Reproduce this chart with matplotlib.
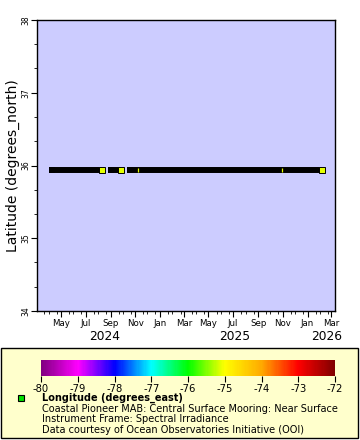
import matplotlib
matplotlib.use("Agg")
import matplotlib.pyplot as plt
import matplotlib.dates as mdates
from matplotlib.colors import LinearSegmentedColormap, Normalize
from matplotlib.cm import ScalarMappable
from matplotlib.patches import Rectangle
from matplotlib.lines import Line2D
import numpy as np
import pandas as pd

plt.rcParams["axes.unicode_minus"] = False

# ---------------------------------------------------------------------------
# Data
# ---------------------------------------------------------------------------
segment_starts = pd.to_datetime(["2024-04-08", "2024-09-02", "2024-10-19"])
segment_ends = pd.to_datetime(["2024-08-10", "2024-09-26", "2026-02-06"])
gap_points = pd.to_datetime(["2024-11-07", "2025-10-30"])
latitude = 35.94
longitude = -75.1

x_limits = pd.to_datetime(["2024-03-03", "2026-03-10"])
y_limits = [34, 38]
y_ticks = [34, 35, 36, 37, 38]
cbar_ticks = [-80, -79, -78, -77, -76, -75, -74, -73, -72]
cmap_colors = ["#800080", "#ff00ff", "#0000ff", "#00ffff", "#00ff00",
               "#ffff00", "#ffaa00", "#ff0000", "#800000"]
year_labels = ["2024", "2025", "2026"]
legend_lines = [
    "Coastal Pioneer MAB: Central Surface Mooring: Near Surface",
    "Instrument Frame: Spectral Irradiance",
    "Data courtesy of Ocean Observatories Initiative (OOI)",
]

W, H = 360, 440
cmap = LinearSegmentedColormap.from_list("erddap", cmap_colors)
norm = Normalize(vmin=-80, vmax=-72)
point_color = cmap(norm(longitude))


def px(x, y):
    """Pixel position (top-left origin) to figure fraction."""
    return x / W, 1 - y / H


fig = plt.figure(figsize=(W / 100, H / 100), dpi=100)
fig.patch.set_facecolor("white")

# ---------------------------------------------------------------------------
# Main axes
# ---------------------------------------------------------------------------
ax = fig.add_axes([37 / W, 1 - 311 / H, 298 / W, 291 / H])
ax.set_facecolor("#ccccff")
lats = [latitude] * len(segment_starts)
ax.hlines(lats, segment_starts, segment_ends,
          color="black", linewidth=4.3, capstyle="butt", zorder=2)
ax.plot(segment_starts, lats, "s", color="black", markeredgewidth=0,
        markersize=4.3, zorder=3)
ax.plot(segment_ends, lats, "s",
        markerfacecolor=point_color, markeredgecolor="black",
        markeredgewidth=0.7, markersize=4.0, zorder=4)
ax.plot(gap_points, [latitude] * len(gap_points), "|", color=point_color,
        markersize=2.6, markeredgewidth=0.9, zorder=4)

ax.set_xlim(x_limits[0], x_limits[1])
ax.set_ylim(*y_limits)
ax.set_yticks(y_ticks)
ax.set_yticklabels([str(t) for t in y_ticks], rotation=90, va="center",
                   fontsize=5.5)
ax.set_yticks(np.arange(34, 38, 1 / 3), minor=True)
ax.set_ylabel("Latitude (degrees_north)", fontsize=10, labelpad=1)

ax.xaxis.set_major_locator(mdates.MonthLocator(bymonth=[1, 3, 5, 7, 9, 11]))
ax.xaxis.set_major_formatter(mdates.DateFormatter("%b"))
ax.xaxis.set_minor_locator(mdates.DayLocator(bymonthday=[1, 21]))
ax.tick_params(axis="x", labelsize=6.2, length=4, pad=2)
ax.tick_params(axis="y", length=4, pad=1)
ax.tick_params(which="minor", length=2)
for spine in ax.spines.values():
    spine.set_linewidth(1)

for label, xpos in zip(year_labels, [105, 235, 327]):
    fig.text(*px(xpos, 337), label, ha="center", va="center", fontsize=8.8)

# ---------------------------------------------------------------------------
# Legend panel
# ---------------------------------------------------------------------------
fig.add_artist(Rectangle(px(1, 438), 357 / W, 90 / H, transform=fig.transFigure,
                         facecolor="#ffffcc", edgecolor="black", linewidth=1,
                         zorder=-1))

cax = fig.add_axes([41 / W, 1 - 376 / H, 294 / W, 16 / H])
cb = fig.colorbar(ScalarMappable(norm=norm, cmap=cmap), cax=cax,
                  orientation="horizontal", ticks=cbar_ticks)
cb.outline.set_visible(False)
cax.tick_params(labelsize=7.2, length=4, pad=1.5, width=0.8)

fig.add_artist(Line2D([21 / W], [1 - 398 / H], marker="s", markersize=4.5,
                      markerfacecolor="#00e000", markeredgecolor="black",
                      markeredgewidth=0.8, transform=fig.transFigure))
fig.text(*px(42, 398), "Longitude (degrees_east)", fontsize=7,
         fontweight="bold", va="center", ha="left")
for i, line in enumerate(legend_lines):
    fig.text(*px(42, 408.5 + 10.5 * i), line, fontsize=7, va="center",
             ha="left")

fig.savefig("out.png", dpi=100)
